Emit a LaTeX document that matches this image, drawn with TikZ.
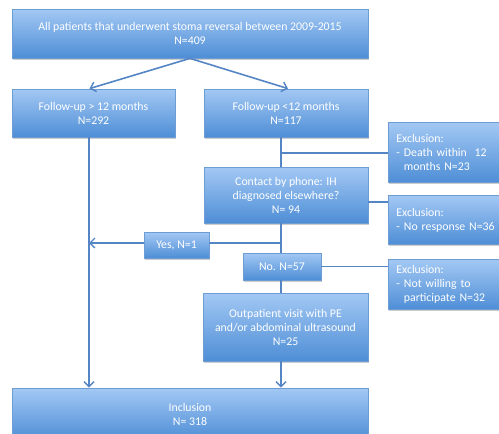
\documentclass[tikz,border=0pt]{standalone}
\usepackage{fontspec}
\setmainfont{Carlito}
\usetikzlibrary{shadows,arrows.meta}
\newlength{\widewidth}
\newlength{\halfwidth}
\newlength{\exclwidth}
\setlength{\widewidth}{356pt}
\setlength{\halfwidth}{164pt}
\setlength{\exclwidth}{116pt}
\definecolor{boxtopcolor}{RGB}{163,200,244}
\definecolor{boxbottomcolor}{RGB}{78,142,214}
\definecolor{boxbordercolor}{RGB}{110,157,212}
\definecolor{linkcolor}{RGB}{84,133,196}
\tikzstyle{flowbox} = [rectangle, draw=boxbordercolor, line width=0.8pt, top color=boxtopcolor, bottom color=boxbottomcolor, text=white, align=center, inner sep=0, font=\fontsize{11.8}{14}\selectfont, drop shadow={shadow xshift=1pt, shadow yshift=-1.5pt, opacity=0.4}]
\tikzstyle{exclbox} = [flowbox, anchor=north west, align=left, text width=\exclwidth, inner xsep=8pt]
\tikzstyle{link} = [draw=linkcolor, line width=1.6pt]

\begin{document}
\begin{tikzpicture}[
		x=1pt, y=-1pt,
		>={Straight Barb[length=5pt,width=10pt,line width=1.4pt]}
		]
		\useasboundingbox (0,0) rectangle (499,434);
		\clip (0,0) rectangle (499,434);
		
		% main column
		\node[flowbox, minimum width=\widewidth, minimum height=49pt] (all) at (190,33.5) {All patients that underwent stoma reversal between 2009-2015\\N=409};
		\node[flowbox, minimum width=163pt, minimum height=48pt] (fulong) at (93.5,113) {Follow-up > 12 months\\N=292};
		\node[flowbox, minimum width=\halfwidth, minimum height=48pt] (fushort) at (286,113) {Follow-up <12 months\\N=117};
		\node[flowbox, minimum width=\halfwidth, minimum height=56pt] (phone) at (286,195) {Contact by phone: IH\\diagnosed elsewhere?\\N= 94};
		\node[flowbox, minimum width=65pt, minimum height=26pt] (yes) at (176.5,245) {Yes, N=1};
		\node[flowbox, minimum width=78pt, minimum height=27pt] (no) at (282,266.5) {No. N=57};
		\node[flowbox, minimum width=165pt, minimum height=68pt] (visit) at (285.5,327) {Outpatient visit with PE\\and/or abdominal ultrasound\\N=25};
		\node[flowbox, minimum width=\widewidth, minimum height=52pt] (incl) at (190,414) {Inclusion\\N= 318};
		
		% exclusions
		\node[exclbox, minimum height=60pt] (death) at (388,122) {Exclusion:\\- Death within\ \ 12\\\phantom{- }months N=23};
		\node[exclbox, minimum height=49pt] (noresp) at (388,195) {Exclusion:\\- No response N=36};
		\node[exclbox, minimum height=50pt] (unwill) at (388,259) {Exclusion:\\- Not willing to\\\phantom{- }participate N=32};
		
		% connectors
		\coordinate (split) at (281,153);
		\coordinate (yesjoin) at (281,243);
		\coordinate (phonejoin) at (368,202);
		\draw[link, ->] (all.south) -- ([xshift=-4pt]fulong.north);
		\draw[link, ->] (all.south) -- ([xshift=2pt]fushort.north);
		\draw[link] (fushort.south -| split) -- (phone.north -| split);
		\draw[link] (split) -- (death.west |- split);
		\draw[link] (phonejoin) -- (noresp.west |- phonejoin);
		\draw[link] (phone.south -| yesjoin) -- (no.north -| yesjoin);
		\draw[link] (yesjoin) -- (yes.east |- yesjoin);
		\draw[link, ->] (yes.west |- yesjoin) -- (89,243);
		\draw[link] (no.east) -- (unwill.west |- no.east);
		\draw[link] (no.south -| yesjoin) -- (visit.north -| yesjoin);
		\draw[link, ->] (visit.south -| yesjoin) -- (incl.north -| yesjoin);
		\draw[link, ->] (fulong.south -| 89,0) -- (incl.north -| 89,0);
		
	\end{tikzpicture}
\end{document}
